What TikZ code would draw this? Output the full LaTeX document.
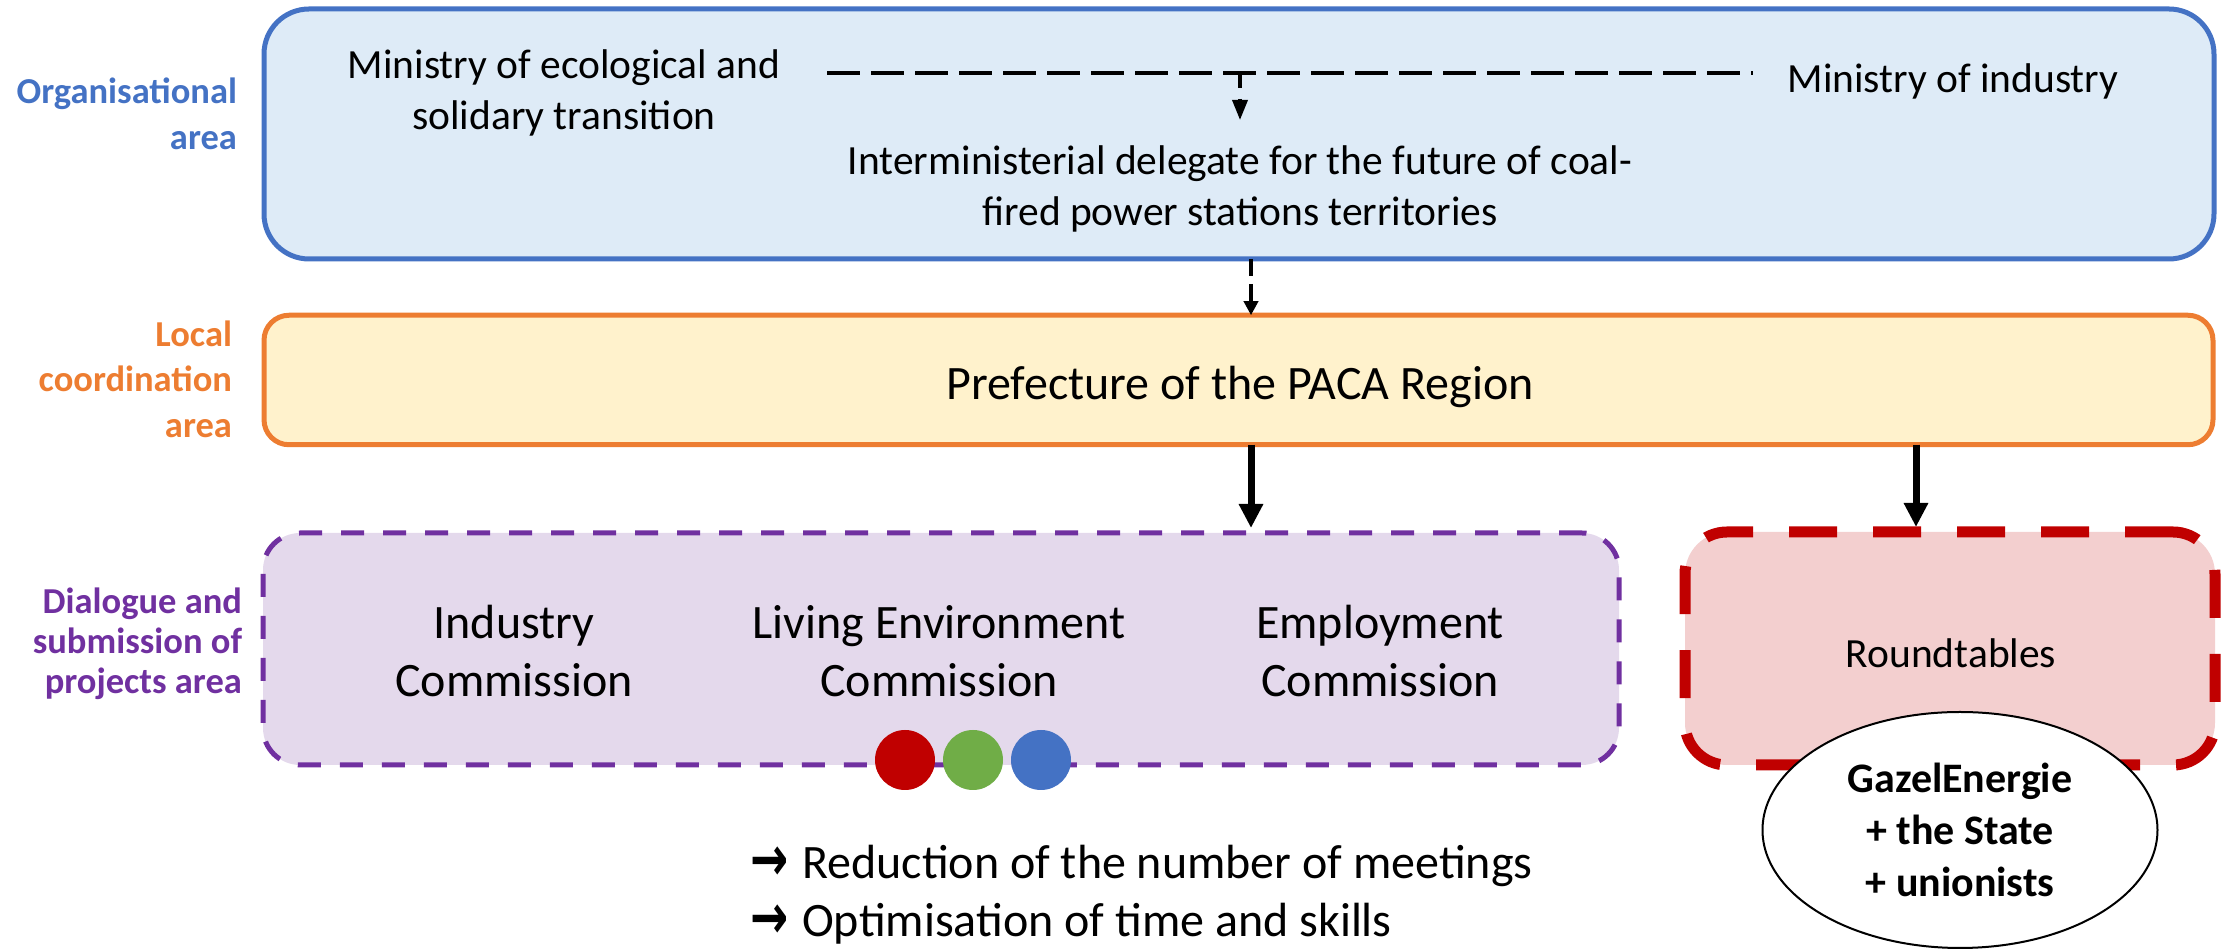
\documentclass[tikz,border=0pt]{standalone}
\usepackage{fontspec}
\usepackage{graphicx}
\setmainfont{Carlito}
\newfontfamily\arrowfont{DejaVu Sans}
\usetikzlibrary{arrows.meta,shapes.geometric}
\definecolor{cblue}{HTML}{4472C4}
\definecolor{cbluefill}{HTML}{DEEBF7}
\definecolor{corange}{HTML}{ED7D31}
\definecolor{corangefill}{HTML}{FFF2CC}
\definecolor{cpurple}{HTML}{7030A0}
\definecolor{cpurplefill}{HTML}{E4D9EC}
\definecolor{cred}{HTML}{C00000}
\definecolor{credfill}{HTML}{F3CFCF}
\definecolor{cgreen}{HTML}{70AD47}
\newcommand{\bularrow}{\raisebox{-0.6pt}{\scalebox{0.95}[1.3]{\arrowfont\bfseries →}}\hspace{1.4mm}}
\tikzset{
  fmain/.style={font=\fontsize{11.81pt}{14.51pt}\selectfont},
  fbig/.style={font=\fontsize{13.66pt}{16.5pt}\selectfont},
  flabel/.style={font=\fontsize{10.39pt}{12.95pt}\selectfont\bfseries},
  flabeltight/.style={font=\fontsize{10.39pt}{11.4pt}\selectfont\bfseries},
  fell/.style={font=\fontsize{11.95pt}{14.8pt}\selectfont\bfseries},
  txt/.style={inner sep=0pt, outer sep=0pt, align=center},
  areabox/.style={inner sep=0pt, outer sep=0pt, line width=0.5mm},
  topbox/.style={areabox, draw=cblue, fill=cbluefill, rounded corners=4.5mm},
  prefbox/.style={areabox, draw=corange, fill=corangefill, rounded corners=2.5mm},
  commbox/.style={areabox, draw=cpurple, fill=cpurplefill, rounded corners=3.7mm,
    dash pattern=on 2.3mm off 1.9mm},
  roundbox/.style={areabox, draw=cred, fill=credfill, line width=1.1mm, rounded corners=4.2mm,
    dash pattern=on 4.8mm off 3.6mm},
  dot/.style={circle, inner sep=0pt, minimum size=6mm},
  mindash/.style={line width=0.4mm, dash pattern=on 3.3mm off 1.1mm},
  smallarrow/.style={line width=0.35mm, dash pattern=on 1.5mm off 1.1mm,
    -{Triangle[length=2mm,width=1.5mm]}},
  dasharrow/.style={line width=0.35mm, dash pattern=on 1.7mm off 0.8mm,
    -{Triangle[length=1.4mm,width=1.4mm]}},
  bigarrow/.style={line width=0.7mm, -{Triangle[length=2.4mm,width=2.3mm]}, shorten >=0.5mm}
}
\begin{document}
\begin{tikzpicture}[x=0.1mm,y=-0.1mm]
\useasboundingbox (0,0) rectangle (2231,950);
% area boxes
\node[topbox, minimum width=195mm, minimum height=25mm] (top) at (1239,134) {};
\node[prefbox, minimum width=194.9mm, minimum height=12.95mm] (pref) at (1238.5,380) {};
\node[commbox, minimum width=135.6mm, minimum height=23.2mm] (comm) at (941,649) {};
\node[roundbox, minimum width=53mm, minimum height=23.3mm] (round) at (1950,648.5) {};
% box texts
\node[txt, fbig] (preftext) at (1240,387) {Prefecture of the PACA Region};
\node[txt, fmain] (roundtext) at (1951,653) {Roundtables};
% area labels
\node[txt, flabel, text=cblue, anchor=east, align=right] (lab1) at (237,114) {Organisational\\area};
\node[txt, flabel, text=corange, anchor=east, align=right] (lab2) at (232,379) {Local\\coordination\\area};
\node[txt, flabeltight, text=cpurple, anchor=east, align=right] (lab3) at (242,644) {Dialogue and\\submission of\\projects area};
% organisational area texts
\node[txt, fmain] (mineco) at (564,93) {Ministry of ecological and\\solidary transition};
\node[txt, fmain] (minind) at (1953,81) {Ministry of industry};
\node[txt, fmain] (deleg) at (1240,189) {Interministerial delegate for the future of coal-\\fired power stations territories};
% commissions
\node[txt, fbig] (cind) at (514,651) {Industry\\Commission};
\node[txt, fbig] (cliv) at (939,651) {Living Environment\\Commission};
\node[txt, fbig] (cemp) at (1380,651) {Employment\\Commission};
% dots
\node[dot, fill=cred] (d1) at (905,760) {};
\node[dot, fill=cgreen] (d2) at (973,760) {};
\node[dot, fill=cblue] (d3) at (1041,760) {};
% ellipse
\node[ellipse, draw=black, fill=white, line width=0.2mm, inner sep=0pt, minimum width=39.5mm,
  minimum height=23.6mm, fell, align=center] (ell) at (1960,830) {GazelEnergie\\+ the State\\+ unionists};
% bullets
\node[txt, fbig, anchor=west, align=left] (bul) at (750,895)
  {\bularrow Reduction of the number of meetings\\\bularrow Optimisation of time and skills};
% connectors
\coordinate (dl) at (827,73);
\coordinate (dr) at (1753,73);
\coordinate (jn) at (1240,73);
\coordinate (jt) at (1240,120);
\coordinate (xa) at (1251,0);
\coordinate (xb) at (1916,0);
\draw[mindash] (dl) -- (dr);
\draw[smallarrow] (jn) -- (jt);
\draw[dasharrow] (top.south -| xa) -- (pref.north -| xa);
\draw[bigarrow] (pref.south -| xa) -- (comm.north -| xa);
\draw[bigarrow] (pref.south -| xb) -- (round.north -| xb);
\end{tikzpicture}
\end{document}
